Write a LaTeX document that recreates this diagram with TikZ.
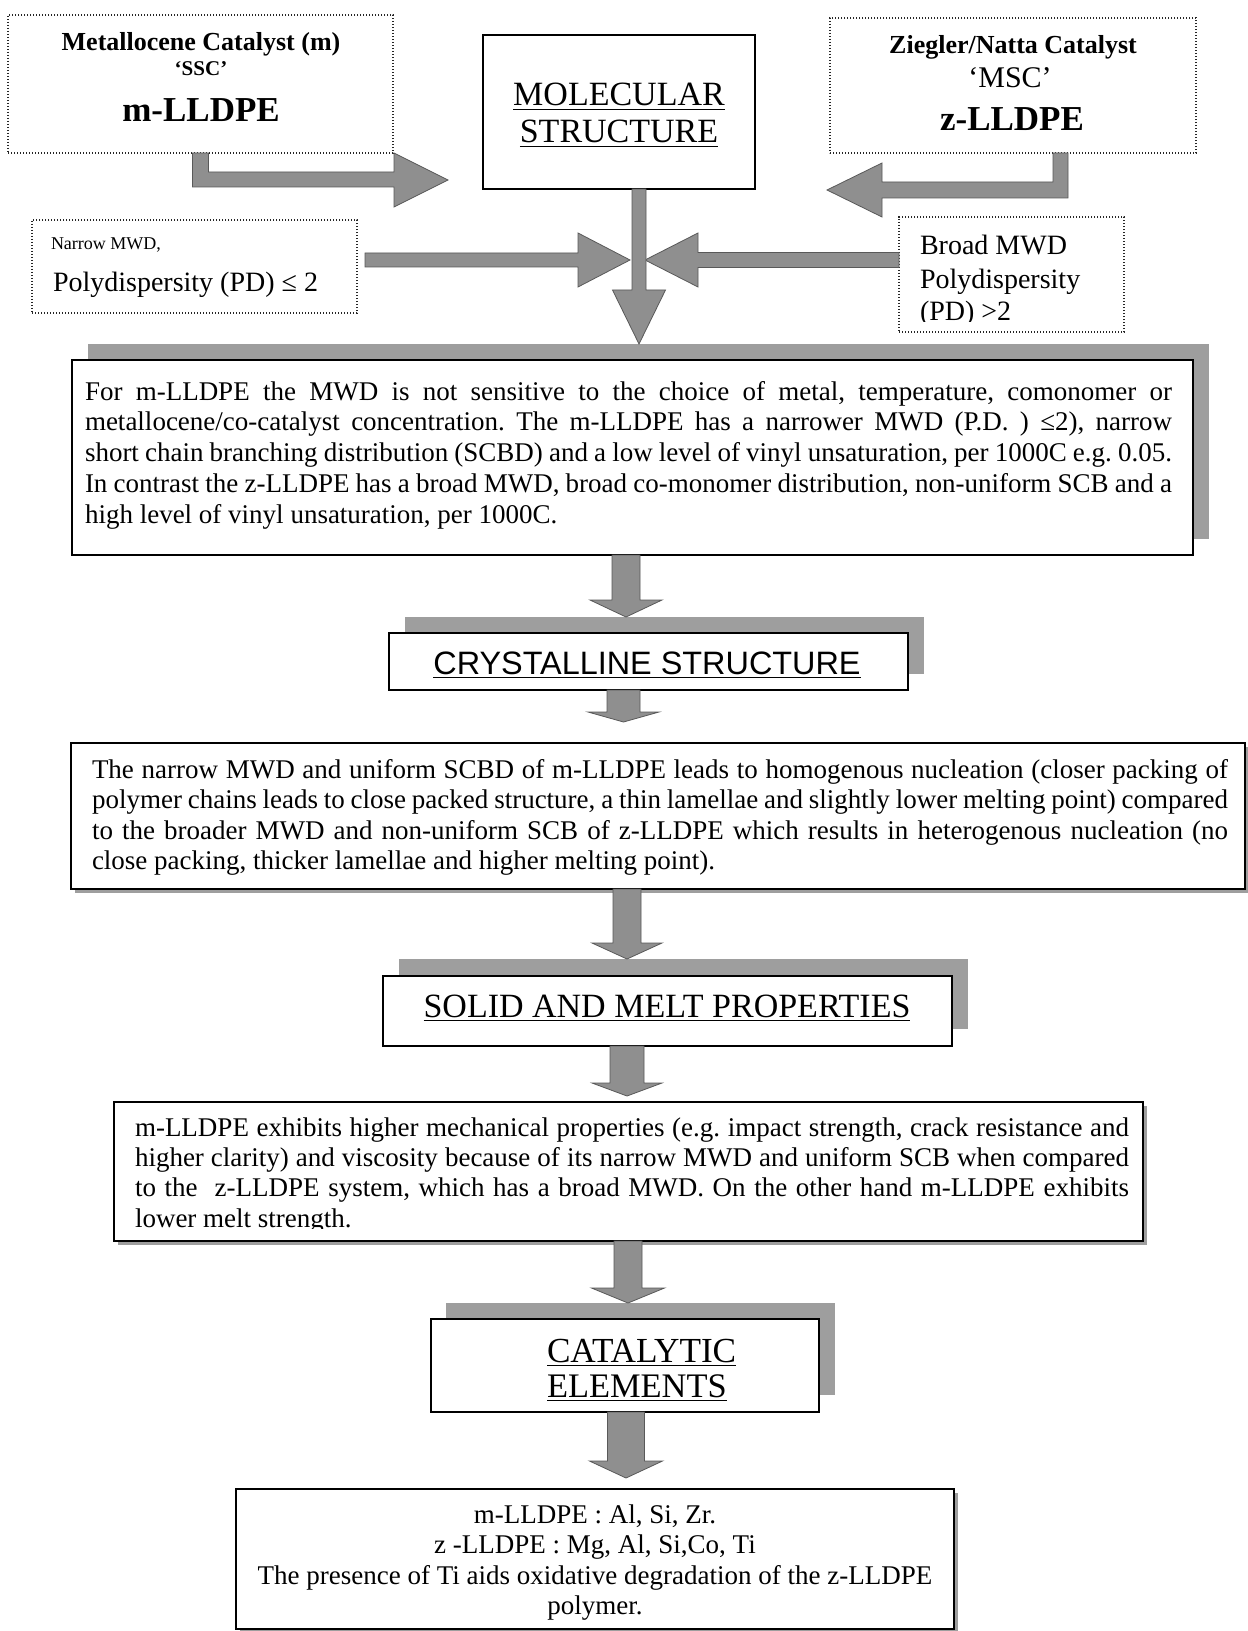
\documentclass[tikz,border=0pt]{standalone}
\usepackage{fontspec}
\setmainfont{Liberation Serif}
\newfontfamily\sansA{Liberation Sans}
\usetikzlibrary{calc}
\definecolor{agray}{gray}{0.56}
\definecolor{sgray}{gray}{0.62}
\newcommand\jline[1]{\makebox[\linewidth][s]{#1}}
\newcommand\fsz[2]{\fontsize{#1}{#2}\selectfont}
\newcommand\vblk[5]{\path[blockarrow] let \p1=#1, \p2=#2 in (\x2-#3,\y1) -- (\x2+#3,\y1) -- (\x2+#3,\y2+#5) -- (\x2+#4,\y2+#5) -- (\x2,\y2) -- (\x2-#4,\y2+#5) -- (\x2-#3,\y2+#5) -- cycle;}
\tikzset{
  dotbox/.style={draw=black!85, line width=0.7pt, dash pattern=on 0.7pt off 0.8pt, inner sep=0pt, outer sep=0pt, anchor=north west},
  solidbox/.style={draw=black, line width=1pt, fill=white, inner sep=0pt, outer sep=0pt, anchor=north west},
  shadowbox/.style={fill=sgray, draw=none, inner sep=0pt, outer sep=0pt, anchor=north west},
  blockarrow/.style={fill=agray, draw=black!65, line width=0.4pt, line join=miter},
  txt/.style={inner sep=0pt, outer sep=0pt, anchor=base},
  ltxt/.style={inner sep=0pt, outer sep=0pt, anchor=base west},
}
\begin{document}
\begin{tikzpicture}[x=0.5pt,y=-0.5pt]
\useasboundingbox (0,0) rectangle (1247,1631);
\fill[white] (0,0) rectangle (1247,1631);
\frenchspacing
% ---------- top boxes ----------
\node[dotbox, minimum width=192.5pt, minimum height=69pt] (mbox) at (8,15) {};
\node[txt, font=\fsz{13}{15}\bfseries] (mt1) at (201,51) {Metallocene Catalyst (m)};
\node[txt, font=\fsz{10.5}{12}\bfseries] (mt2) at (201,76) {‘SSC’};
\node[txt, font=\fsz{17.5}{20}\bfseries] (mt3) at (201,122) {m-LLDPE};

\node[solidbox, line width=1.2pt, minimum width=136pt, minimum height=77pt] (molbox) at (483,35) {};
\node[txt, font=\fsz{17}{20}] (mol1) at (619,106) {\underline{MOLECULAR}};
\node[txt, font=\fsz{17}{20}] (mol2) at (619,143) {\underline{STRUCTURE}};

\node[dotbox, minimum width=183pt, minimum height=67.5pt] (zbox) at (830,18) {};
\node[txt, font=\fsz{13}{15}\bfseries] (zt1) at (1013,54) {Ziegler/Natta Catalyst};
\node[txt, font=\fsz{15}{17}] (zt2) at (1010,88) {‘MSC’};
\node[txt, font=\fsz{17.5}{20}\bfseries] (zt3) at (1012,131) {z-LLDPE};

\node[dotbox, minimum width=162.5pt, minimum height=46.5pt] (nbox) at (32,220) {};
\node[ltxt, font=\fsz{9}{11}] (nt1) at (51,250) {Narrow MWD,};
\node[ltxt, font=\fsz{14}{16}] (nt2) at (53,292) {Polydispersity (PD) ≤ 2};

\node[dotbox, minimum width=112.5pt, minimum height=57.5pt] (bbox) at (899,217) {};
\begin{scope}
\clip (bbox.north west) rectangle ($(bbox.south east)+(0,-10)$);
\node[ltxt, font=\fsz{14}{16}] (bt1) at (920,255) {Broad MWD};
\node[ltxt, font=\fsz{14}{16}] (bt2) at (920,289) {Polydispersity};
\node[ltxt, font=\fsz{14}{16}] (bt3) at (920,321) {(PD) >2};
\end{scope}

% ---------- top arrows ----------
\coordinate (a1tip) at (448,180);
\path[blockarrow] let \p1=(mbox.south), \p2=(a1tip) in (\x1-4pt,\y1) -- (\x1+4pt,\y1) -- (\x1+4pt,\y2+4pt) -- (\x2-27pt,\y2+4pt) -- (\x2-27pt,\y2+13.5pt) -- (\x2,\y2) -- (\x2-27pt,\y2-13.5pt) -- (\x2-27pt,\y2-3.5pt) -- (\x1-4pt,\y2-3.5pt) -- cycle;
\coordinate (a2tip) at (827,190);
\coordinate (a2v) at (1060.5,0);
\path[blockarrow] let \p1=(a2v |- zbox.south), \p2=(a2tip) in (\x1+3.75pt,\y1) -- (\x1-3.75pt,\y1) -- (\x1-3.75pt,\y2+4pt) -- (\x2+27.5pt,\y2+4pt) -- (\x2+27.5pt,\y2+13.5pt) -- (\x2,\y2) -- (\x2+27.5pt,\y2-13.5pt) -- (\x2+27.5pt,\y2-4pt) -- (\x1+3.75pt,\y2-4pt) -- cycle;
\coordinate (a3tip) at (630,260);
\path[blockarrow] let \p1=(nbox.east), \p2=(a3tip) in (\x1+4pt,\y2+3.5pt) -- (\x2-26pt,\y2+3.5pt) -- (\x2-26pt,\y2+13.5pt) -- (\x2,\y2) -- (\x2-26pt,\y2-13.5pt) -- (\x2-26pt,\y2-3.5pt) -- (\x1+4pt,\y2-3.5pt) -- cycle;
\coordinate (a4tip) at (645,260);
\path[blockarrow] let \p1=(bbox.west), \p2=(a4tip) in (\x1,\y2+3.75pt) -- (\x2+26.5pt,\y2+3.75pt) -- (\x2+26.5pt,\y2+13.5pt) -- (\x2,\y2) -- (\x2+26.5pt,\y2-13.5pt) -- (\x2+26.5pt,\y2-3.75pt) -- (\x1,\y2-3.75pt) -- cycle;

% ---------- box 1 ----------
\node[shadowbox, minimum width=560.5pt, minimum height=97.5pt] (box1sh) at (88,344) {};
\node[solidbox, minimum width=560.5pt, minimum height=97.5pt] (box1) at (72,360) {};
\node[ltxt] (t1) at (85,400) {\parbox[t]{543.5pt}{\fsz{13.5}{15.4}%
\jline{For m-LLDPE the MWD is not sensitive to the choice of metal, temperature, comonomer or}\\
\jline{metallocene/co-catalyst concentration. The m-LLDPE has a narrower MWD (P.D. ) ≤2), narrow}\\
\jline{short chain branching distribution (SCBD) and a low level of vinyl unsaturation, per 1000C e.g. 0.05.}\\
\jline{In contrast the z-LLDPE has a broad MWD, broad co-monomer distribution, non-uniform SCB and a}\\
high level of vinyl unsaturation, per 1000C.}};

\coordinate (a5x) at (639,0);
\vblk{(a5x |- molbox.south)}{(a5x |- box1sh.north)}{3.5pt}{13.25pt}{27pt}

% ---------- crystalline ----------
\node[shadowbox, minimum width=259.5pt, minimum height=28.5pt] (crystsh) at (405,617) {};
\node[solidbox, minimum width=259.5pt, minimum height=28.5pt] (cryst) at (389,633) {};
\node[txt, font=\sansA\fsz{16.2}{18}] (ct) at (647,674) {\underline{CRYSTALLINE STRUCTURE}};
\coordinate (v2x) at (626,0);
\vblk{(v2x |- box1.south)}{(v2x |- crystsh.north)}{7pt}{18pt}{8.5pt}

% ---------- box 2 ----------
\node[shadowbox, minimum width=587pt, minimum height=73pt] (box2sh) at (75,747) {};
\node[solidbox, minimum width=587pt, minimum height=73pt] (box2) at (71,743) {};
\node[ltxt] (t2) at (92,778) {\parbox[t]{568pt}{\fsz{13.5}{15.3}%
\jline{The narrow MWD and uniform SCBD of m-LLDPE leads to homogenous nucleation (closer packing of}\\
\jline{polymer chains leads to close packed structure, a thin lamellae and slightly lower melting point) compared}\\
\jline{to the broader MWD and non-uniform SCB of z-LLDPE which results in heterogenous nucleation (no}\\
close packing, thicker lamellae and higher melting point).}};
\coordinate (v3tip) at (623.5,722);
\vblk{(v3tip |- cryst.south)}{(v3tip)}{8.25pt}{17.75pt}{5pt}

% ---------- solid and melt ----------
\node[shadowbox, minimum width=284.5pt, minimum height=35pt] (solidsh) at (399,959) {};
\node[solidbox, minimum width=284.5pt, minimum height=35pt] (solid) at (383,976) {};
\node[txt, font=\fsz{17}{20}] (st) at (667,1017) {\underline{SOLID AND MELT PROPERTIES}};
\coordinate (v4x) at (627,0);
\vblk{(v4x |- box2.south)}{(v4x |- solidsh.north)}{7pt}{17.5pt}{8pt}

% ---------- box 3 ----------
\node[shadowbox, minimum width=514.5pt, minimum height=69.5pt] (box3sh) at (118,1106) {};
\node[solidbox, minimum width=514.5pt, minimum height=69.5pt] (box3) at (114,1102) {};
\begin{scope}
\clip (box3.north west) rectangle ($(box3.south east)+(0,-13)$);
\node[ltxt] (t3) at (135,1136) {\parbox[t]{497pt}{\fsz{13.5}{15.2}%
\jline{m-LLDPE exhibits higher mechanical properties (e.g. impact strength, crack resistance and}\\
\jline{higher clarity) and viscosity because of its narrow MWD and uniform SCB when compared}\\
\jline{to the~ z-LLDPE system, which has a broad MWD. On the other hand m-LLDPE exhibits}\\
lower melt strength.}};
\end{scope}
\coordinate (v5tip) at (627,1096);
\vblk{(v5tip |- solid.south)}{(v5tip)}{8.5pt}{17.5pt}{6.5pt}

% ---------- catalytic ----------
\node[shadowbox, minimum width=194.5pt, minimum height=46pt] (catalsh) at (446,1303) {};
\node[solidbox, minimum width=194pt, minimum height=46.5pt] (catal) at (431,1319) {};
\node[ltxt, font=\fsz{17.6}{20}] (ca1) at (547,1362) {\underline{CATALYTIC}};
\node[ltxt, font=\fsz{17.2}{20}] (ca2) at (547,1397) {\underline{ELEMENTS}};
\coordinate (v6x) at (628,0);
\vblk{(v6x |- box3.south)}{(v6x |- catalsh.north)}{7pt}{18.25pt}{7.5pt}

% ---------- box 4 ----------
\node[shadowbox, minimum width=359pt, minimum height=70pt] (box4sh) at (240,1493) {};
\node[solidbox, minimum width=359pt, minimum height=70pt] (box4) at (236,1489) {};
\node[txt] (t4) at (595,1523) {\parbox[t]{350pt}{\centering\fsz{13.5}{15.3}%
m-LLDPE : Al, Si, Zr.\\
z -LLDPE : Mg, Al, Si,Co, Ti\\
The presence of Ti aids oxidative degradation of the z-LLDPE\\
polymer.}};
\coordinate (v7tip) at (626,1478);
\vblk{(v7tip |- catal.south)}{(v7tip)}{9.25pt}{18.25pt}{8.5pt}
\end{tikzpicture}
\end{document}
